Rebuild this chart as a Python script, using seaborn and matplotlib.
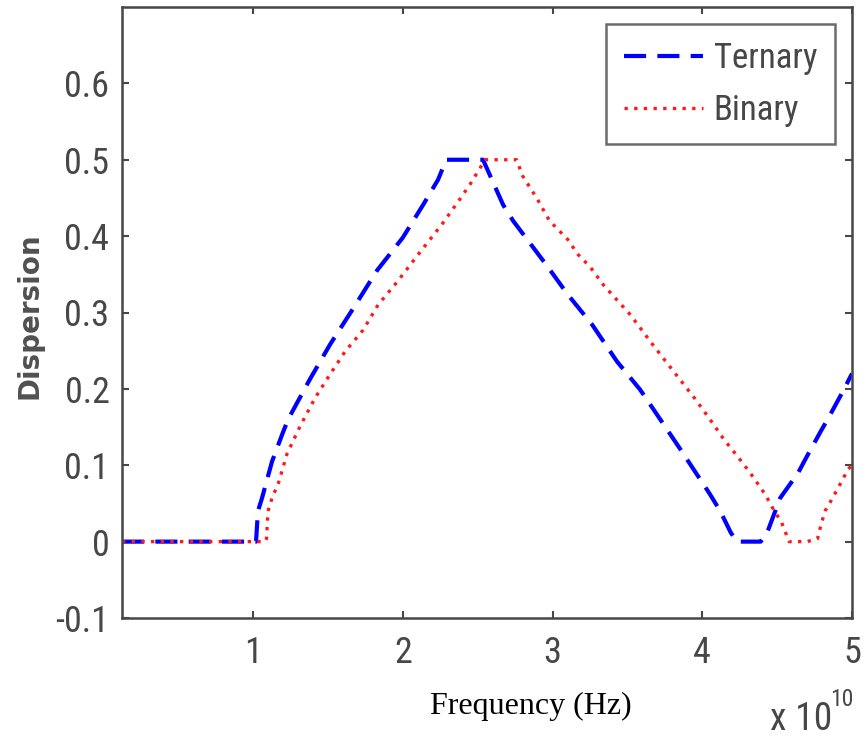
import matplotlib
matplotlib.use("Agg")
import matplotlib.pyplot as plt
import seaborn as sns
import pandas as pd
from matplotlib import font_manager

# Frequency in units of 1e10 Hz
ternary_freq = [0.125, 1.02, 1.033, 1.06, 1.127, 1.194, 1.234, 1.381, 1.514, 1.668,
                1.828, 2.0, 2.136, 2.236, 2.29, 2.536, 2.67, 2.737, 2.96, 3.10,
                3.265, 3.43, 3.585, 3.73, 3.85, 4.05, 4.12, 4.19, 4.23, 4.39,
                4.43, 4.52, 4.64, 4.70, 4.79, 4.84, 4.94, 5.0]
ternary_disp = [0.0, 0.0, 0.04, 0.057, 0.105, 0.14, 0.16, 0.213, 0.258, 0.305,
                0.355, 0.398, 0.441, 0.474, 0.5, 0.5, 0.441, 0.42, 0.362, 0.324,
                0.284, 0.236, 0.199, 0.157, 0.122, 0.0625, 0.04, 0.012, 0.0, 0.0,
                0.01, 0.057, 0.09, 0.112, 0.144, 0.161, 0.197, 0.22]

binary_freq = [0.125, 1.08, 1.09, 1.10, 1.127, 1.17, 1.227, 1.314, 1.414, 1.514,
               1.615, 1.735, 1.835, 1.962, 2.115, 2.26, 2.38, 2.45, 2.55, 2.76,
               2.80, 2.90, 2.98, 3.10, 3.17, 3.25, 3.34, 3.52, 3.665, 3.80,
               3.95, 4.07, 4.14, 4.25, 4.32, 4.42, 4.47, 4.53, 4.58, 4.70,
               4.77, 4.79, 4.82, 4.87, 4.92, 4.975, 5.0]
binary_disp = [0.0, 0.0, 0.004, 0.04, 0.057, 0.077, 0.115, 0.151, 0.188, 0.219,
               0.249, 0.277, 0.31, 0.34, 0.379, 0.415, 0.448, 0.468, 0.5, 0.5,
               0.479, 0.448, 0.42, 0.396, 0.376, 0.36, 0.336, 0.297, 0.259, 0.225,
               0.1875, 0.155, 0.135, 0.108, 0.09, 0.062, 0.044, 0.025, 0.0, 0.0,
               0.004, 0.02, 0.04, 0.057, 0.075, 0.095, 0.10]

series_names = ["Ternary", "Binary"]
x_ticks = [1, 2, 3, 4, 5]
y_ticks = [-0.1, 0, 0.1, 0.2, 0.3, 0.4, 0.5, 0.6]
y_tick_labels = ["-0.1", "0", "0.1", "0.2", "0.3", "0.4", "0.5", "0.6"]

df_t = pd.DataFrame({"freq": ternary_freq, "disp": ternary_disp})
df_b = pd.DataFrame({"freq": binary_freq, "disp": binary_disp})

sns.set_style("white")
installed = {f.name for f in font_manager.fontManager.ttflist}
narrow = [n for n in ["Roboto Condensed", "Liberation Sans Narrow", "DejaVu Sans Condensed"]
          if n in installed]
tick_font = narrow + ["Liberation Sans", "DejaVu Sans"]
grey = "#474747"

fig = plt.figure(figsize=(8.64, 7.42), dpi=100)
ax = fig.add_axes([122 / 864, 1 - 618 / 742, (852 - 122) / 864, (618 - 7) / 742])

sns.lineplot(data=df_t, x="freq", y="disp", ax=ax, color="#0000ff", lw=3.0,
             estimator=None, sort=False, label=series_names[0])
sns.lineplot(data=df_b, x="freq", y="disp", ax=ax, color="#ff1a1a", lw=2.4,
             estimator=None, sort=False, label=series_names[1])
lines = ax.get_lines()
lines[0].set_dashes((5.3, 2.7))
lines[1].set_dashes((1.0, 1.9))

ax.set_xlim(0.125, 5.0)
ax.set_ylim(-0.1, 0.7)
ax.set_xticks(x_ticks)
ax.set_xticklabels([str(v) for v in x_ticks])
ax.set_yticks(y_ticks)
ax.set_yticklabels(y_tick_labels)
ax.set_xlabel("")
ax.set_ylabel("")

for s in ax.spines.values():
    s.set_visible(True)
    s.set_color(grey)
    s.set_linewidth(1.8)

ax.tick_params(axis="both", which="both", direction="in", length=5, width=1.5,
               color=grey, top=True, right=True, bottom=True, left=True,
               labelsize=26, labelcolor=grey)
ax.tick_params(axis="y", pad=9)
ax.tick_params(axis="x", pad=12)
for lab in ax.get_xticklabels() + ax.get_yticklabels():
    lab.set_family(tick_font)

fig.text(0.034, (742 - 316) / 742, "Dispersion", rotation=90, ha="center", va="center",
         fontsize=20, fontweight="bold", color="#505050", family="DejaVu Sans")
fig.text(531 / 864, 1 - 706 / 742, "Frequency (Hz)", ha="center", va="center",
         fontsize=23, color="black", family=["Liberation Serif", "DejaVu Serif"])
fig.text(801 / 864, 1 - 720 / 742, "x 10", ha="center", va="center",
         fontsize=27, color=grey, family=tick_font)
fig.text(842 / 864, 1 - 699 / 742, "10", ha="center", va="center",
         fontsize=17, color=grey, family=tick_font)

leg = ax.legend(loc="upper right", frameon=True, fancybox=False,
                handlelength=2.3, handletextpad=0.3, borderpad=0.5,
                labelspacing=0.55, borderaxespad=0.5,
                prop={"family": tick_font, "size": 25})
leg.get_frame().set_edgecolor(grey)
leg.get_frame().set_linewidth(1.8)
for t in leg.get_texts():
    t.set_color(grey)

fig.savefig("out.png", dpi=100)
